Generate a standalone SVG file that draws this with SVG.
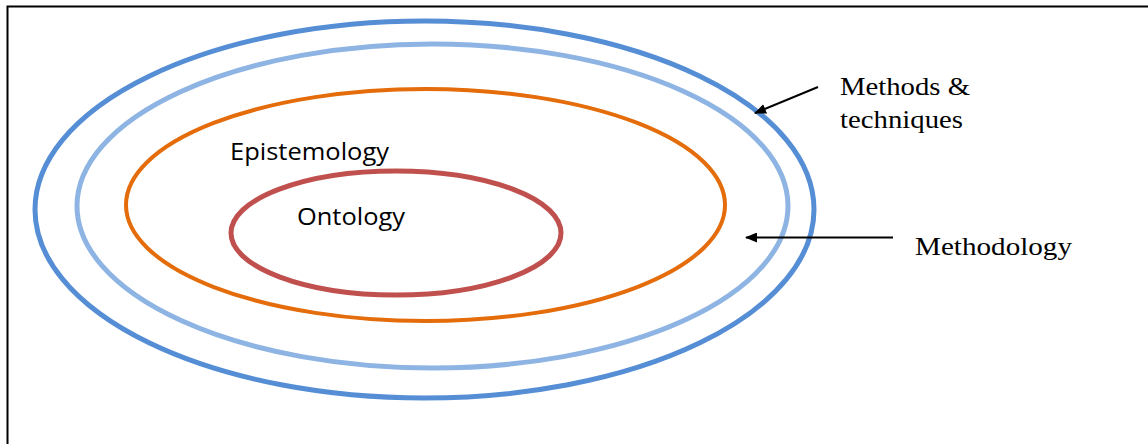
<svg xmlns="http://www.w3.org/2000/svg" width="1148" height="444" viewBox="0 0 1148 444">
<style>
.ring{fill:none}
.sans{font-family:"Open Sans","Liberation Sans",sans-serif;font-size:23px;fill:#000}
.serif{font-family:"Liberation Serif","Times New Roman",serif;font-size:26px;fill:#000}
.conn{stroke:#000;stroke-width:2;fill:none}
</style>
<defs>
<marker id="ah" markerWidth="12" markerHeight="10" refX="11" refY="5" orient="auto" markerUnits="userSpaceOnUse">
<path d="M0,0 L12,5 L0,10 Z" fill="#000"/>
</marker>
</defs>
<rect width="1148" height="444" fill="#fff"/>
<path d="M7.5,444 V6.5 H1148" fill="none" stroke="#000" stroke-width="2"/>
<g id="methods-ring"><ellipse class="ring" cx="424.5" cy="209.5" rx="389.5" ry="188.5" stroke="#558ED5" stroke-width="5"/></g>
<g id="methodology-ring"><ellipse class="ring" cx="432.5" cy="206" rx="355.5" ry="162" stroke="#8EB4E3" stroke-width="5"/></g>
<g id="epistemology"><ellipse class="ring" cx="425.5" cy="205" rx="299.5" ry="116" stroke="#E46C0A" stroke-width="4"/>
<text class="sans" x="230" y="160" textLength="159" lengthAdjust="spacingAndGlyphs">Epistemology</text></g>
<g id="ontology"><ellipse class="ring" cx="396" cy="233" rx="165" ry="62" stroke="#C0504D" stroke-width="5"/>
<text class="sans" x="297" y="225" textLength="108" lengthAdjust="spacingAndGlyphs">Ontology</text></g>
<g id="label-methods">
<text class="serif" x="840" y="95" textLength="130" lengthAdjust="spacingAndGlyphs">Methods &amp;</text>
<text class="serif" x="840" y="128" textLength="123" lengthAdjust="spacingAndGlyphs">techniques</text></g>
<g id="label-methodology"><text class="serif" x="915" y="255" textLength="157" lengthAdjust="spacingAndGlyphs">Methodology</text></g>
<g id="connectors">
<line class="conn" x1="818" y1="87" x2="755" y2="113" marker-end="url(#ah)"/>
<line class="conn" x1="893" y1="237.5" x2="746" y2="237.5" marker-end="url(#ah)"/>
</g>
</svg>
